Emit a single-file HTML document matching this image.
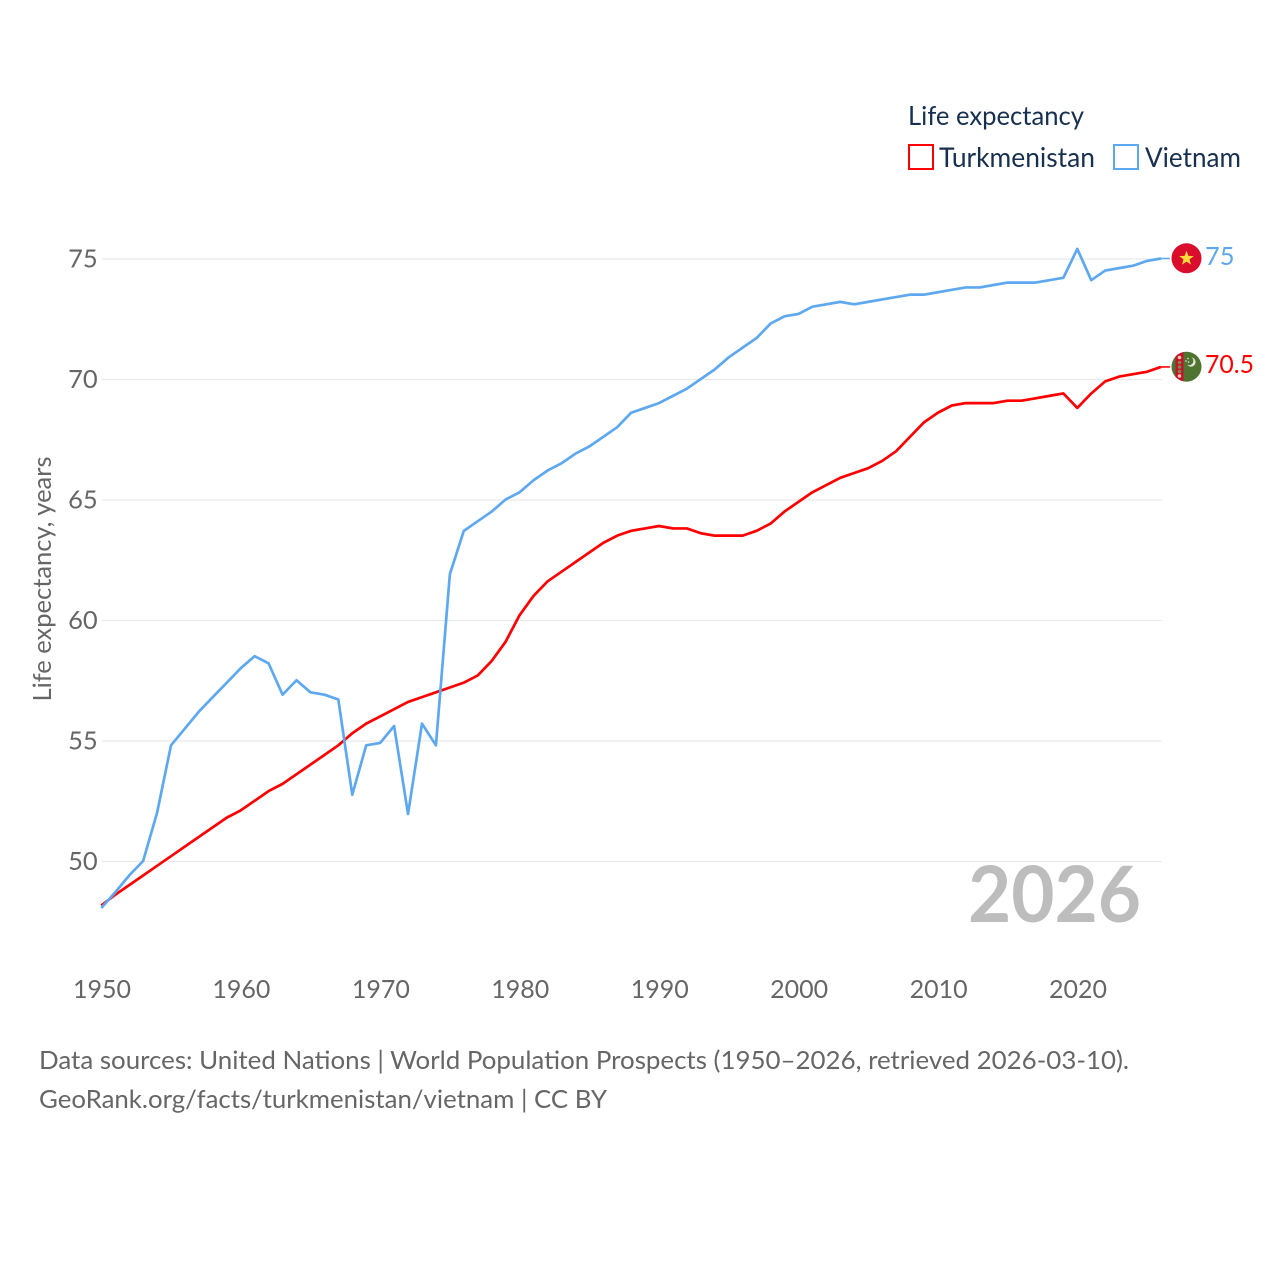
<!DOCTYPE html>
<html>
<head>
<meta charset="utf-8">
<title>Life expectancy: Turkmenistan and Vietnam</title>
<style>
html,body{margin:0;padding:0;background:#fff;}
svg{display:block;}
text{font-family:"Lato","Carlito","Liberation Sans",sans-serif;}
</style>
</head>
<body>
<svg id="chart" xmlns="http://www.w3.org/2000/svg" width="1280" height="1280" viewBox="0 0 1280 1280">
  <rect width="1280" height="1280" fill="#ffffff"/>
  <defs>
    <clipPath id="vn-clip"><circle cx="1186.5" cy="258.3" r="15"/></clipPath>
    <clipPath id="tm-clip"><circle cx="1186.5" cy="366.7" r="15"/></clipPath>
  </defs>
  <g id="grid"></g>
  <g id="y-ticks"></g>
  <g id="x-ticks"></g>
  <text transform="translate(51,701.5) rotate(-90)" font-size="25" fill="#666666" textLength="245" lengthAdjust="spacingAndGlyphs">Life expectancy, years</text>
  <text x="968" y="922" font-size="78" font-weight="700" fill="#bdbdbd" textLength="173" lengthAdjust="spacingAndGlyphs">2026</text>
  <g id="series"></g>

  <g clip-path="url(#vn-clip)">
    <rect x="1171" y="243" width="31" height="31" fill="#da0d2c"/>
    <polygon points="1186.5,250.8 1188.4,255.9 1193.8,256.1 1189.5,259.4 1191,264.6 1186.5,261.6 1182,264.6 1183.5,259.4 1179.2,256.1 1184.6,255.9" fill="#ffdc3c"/>
  </g>
  <g clip-path="url(#tm-clip)">
    <rect x="1171" y="351" width="31" height="32" fill="#4f7330"/>
    <rect x="1175.5" y="351" width="8" height="32" fill="#c8102e"/>
    <circle cx="1179.5" cy="357.5" r="1.8" fill="#e8c9a0"/>
    <circle cx="1179.5" cy="362.5" r="1.8" fill="#7a8a45"/>
    <circle cx="1179.5" cy="367" r="1.8" fill="#7a8a45"/>
    <circle cx="1179.5" cy="371.5" r="1.8" fill="#7a8a45"/>
    <circle cx="1179.5" cy="376" r="1.8" fill="#e8c9a0"/>
    <circle cx="1191" cy="362" r="4.6" fill="#e6e6e0"/>
    <circle cx="1189.2" cy="361" r="4.2" fill="#4f7330"/>
    <circle cx="1188" cy="358.5" r="0.8" fill="#e6e6e0"/>
    <circle cx="1186" cy="361" r="0.8" fill="#e6e6e0"/>
    <circle cx="1188.5" cy="362" r="0.8" fill="#e6e6e0"/>
  </g>
  <text x="1205" y="265" font-size="25.5" fill="#5ea8ef">75</text>
  <text x="1205" y="373" font-size="25.5" fill="#ff0000" textLength="49" lengthAdjust="spacingAndGlyphs">70.5</text>

  <g>
    <text x="908" y="125" font-size="26" fill="#17304f" textLength="176" lengthAdjust="spacingAndGlyphs">Life expectancy</text>
    <g>
      <rect x="909" y="145" width="24" height="24" fill="#ffffff" stroke="#ff0000" stroke-width="2"/>
      <text x="939" y="167" font-size="27" fill="#17304f" textLength="156" lengthAdjust="spacingAndGlyphs">Turkmenistan</text>
    </g>
    <g>
      <rect x="1114" y="145" width="24" height="24" fill="#ffffff" stroke="#5ea8ef" stroke-width="2"/>
      <text x="1145" y="167" font-size="27" fill="#17304f" textLength="96" lengthAdjust="spacingAndGlyphs">Vietnam</text>
    </g>
  </g>

  <text x="39" y="1069" font-size="25" fill="#666666" textLength="1090" lengthAdjust="spacingAndGlyphs">Data sources: United Nations | World Population Prospects (1950–2026, retrieved 2026-03-10).</text>
  <text x="39" y="1108" font-size="25" fill="#666666" textLength="568" lengthAdjust="spacingAndGlyphs">GeoRank.org/facts/turkmenistan/vietnam | CC BY</text>
</svg>
<script>
const startYear = 1950;
const xTickLabels = [1950,1960,1970,1980,1990,2000,2010,2020];
const yTickLabels = [50,55,60,65,70,75];
const turkmenistanValues = [48.15,48.6,49.0,49.4,49.8,50.2,50.6,51.0,51.4,51.8,52.1,52.5,52.9,53.2,53.6,54.0,54.4,54.8,55.3,55.7,56.0,56.3,56.6,56.8,57.0,57.2,57.4,57.7,58.3,59.1,60.2,61.0,61.6,62.0,62.4,62.8,63.2,63.5,63.7,63.8,63.9,63.8,63.8,63.6,63.5,63.5,63.5,63.7,64.0,64.5,64.9,65.3,65.6,65.9,66.1,66.3,66.6,67.0,67.6,68.2,68.6,68.9,69.0,69.0,69.0,69.1,69.1,69.2,69.3,69.4,68.8,69.4,69.9,70.1,70.2,70.3,70.5];
const vietnamValues = [48.05,48.7,49.4,50.0,52.0,54.8,55.5,56.2,56.8,57.4,58.0,58.5,58.2,56.9,57.5,57.0,56.9,56.7,52.75,54.8,54.9,55.6,51.95,55.7,54.8,61.9,63.7,64.1,64.5,65.0,65.3,65.8,66.2,66.5,66.9,67.2,67.6,68.0,68.6,68.8,69.0,69.3,69.6,70.0,70.4,70.9,71.3,71.7,72.3,72.6,72.7,73.0,73.1,73.2,73.1,73.2,73.3,73.4,73.5,73.5,73.6,73.7,73.8,73.8,73.9,74.0,74.0,74.0,74.1,74.2,75.4,74.1,74.5,74.6,74.7,74.9,75.0];

const NS = 'http://www.w3.org/2000/svg';
const xScale = year => 102 + (year - 1950) * (1078 - 102) / 70;
const yScale = value => 861.5 - (value - 50) * (861.5 - 259) / 25;
const seriesX = year => xScale(year) - 0.7;
const seriesY = value => yScale(value) - 0.5;

function make(tag, attrs, parent, text) {
  const el = document.createElementNS(NS, tag);
  for (const k in attrs) el.setAttribute(k, attrs[k]);
  if (text !== undefined) el.textContent = text;
  parent.appendChild(el);
  return el;
}

const grid = document.getElementById('grid');
const yTicks = document.getElementById('y-ticks');
const xTicks = document.getElementById('x-ticks');
const seriesGroup = document.getElementById('series');
const lastYear = startYear + vietnamValues.length - 1;

yTickLabels.forEach(v => {
  const line = make('line', {x1: xScale(startYear), x2: xScale(lastYear), y1: yScale(v), y2: yScale(v), stroke: '#e9e9e9', 'stroke-width': 1.3}, grid);
  
  
  const label = make('text', {x: 97.7, y: yScale(v) + 8.5, 'text-anchor': 'end', 'font-size': 25.5, fill: '#666666'}, yTicks, String(v));
  
  
});

xTickLabels.forEach(y => {
  const label = make('text', {x: xScale(y), y: 998, 'text-anchor': 'middle', 'font-size': 25, fill: '#666666'}, xTicks, String(y));
  
  
});

function drawSeries(values, color, name) {
  const pts = values.map((v, i) => seriesX(startYear + i).toFixed(2) + ',' + seriesY(v).toFixed(2)).join(' ');
  const line = make('polyline', {points: pts, fill: 'none', stroke: color, 'stroke-width': 2.7, 'stroke-linejoin': 'round'}, seriesGroup);
  
  
  const endValue = values[values.length - 1];
  const connector = make('line', {x1: seriesX(lastYear), x2: seriesX(lastYear) + 9, y1: seriesY(endValue), y2: seriesY(endValue), stroke: color, 'stroke-width': 1.6}, seriesGroup);
  
  
}

drawSeries(turkmenistanValues, '#ff0000', 'turkmenistan');
drawSeries(vietnamValues, '#5ea8ef', 'vietnam');
</script>
</body>
</html>
